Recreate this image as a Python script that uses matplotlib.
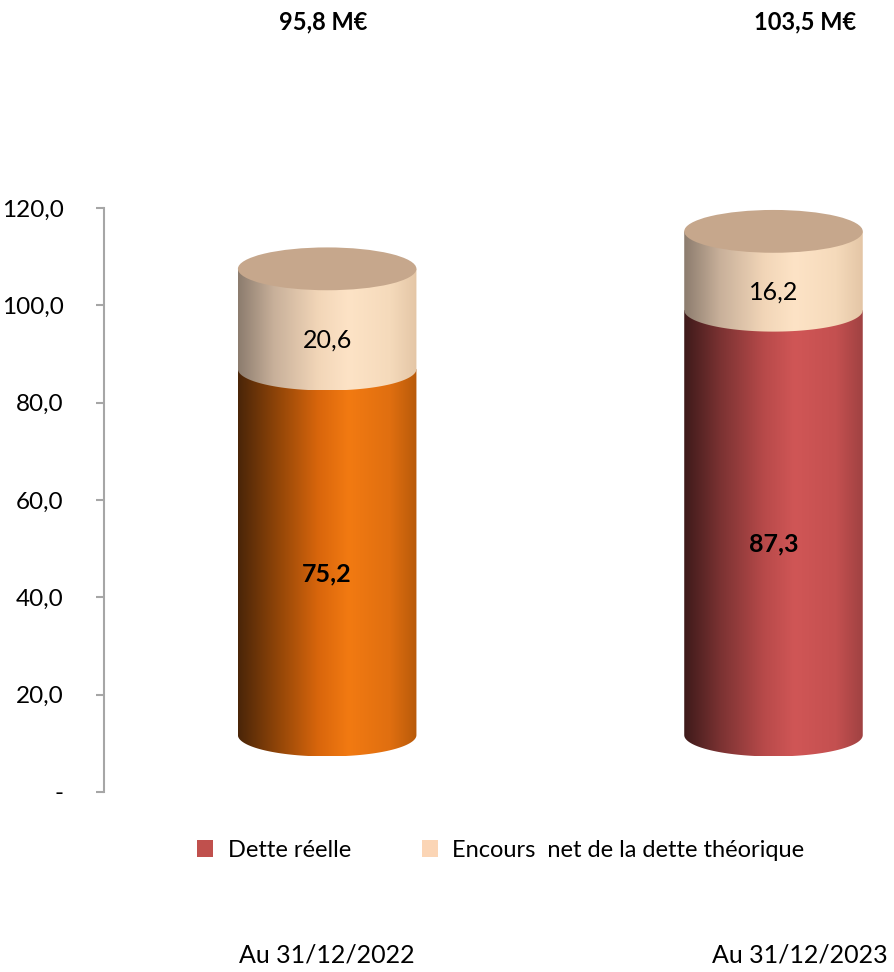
import numpy as np
import matplotlib.pyplot as plt
from matplotlib.path import Path
from matplotlib.patches import PathPatch, Ellipse, Patch
from matplotlib.colors import LinearSegmentedColormap
import matplotlib.transforms as mtransforms

plt.rcParams['font.family'] = ['Lato', 'DejaVu Sans']

# values in M€
categories = ['Au 31/12/2022', 'Au 31/12/2023']
dette_reelle = [75.2, 87.3]
encours_net = [20.6, 16.2]
totals = ['95,8 M€', '103,5 M€']
yticks = [0, 20, 40, 60, 80, 100, 120]
ytick_labels = ['-', '20,0', '40,0', '60,0', '80,0', '100,0', '120,0']

# shading of the cylinder sides, left to right
stops = [0.0, 0.2, 0.45, 0.62, 0.85, 1.0]
side_colors = {
    'orange': ['#4a2508', '#8a4208', '#d9660c', '#f27a12', '#e06f10', '#b85a0a'],
    'red': ['#3e1a1a', '#7a3232', '#b84a4a', '#d05656', '#c45050', '#a04242'],
    'peach': ['#8c7c6e', '#c8b09a', '#f2d6b8', '#fde3c6', '#f5dabb', '#e4c6a6'],
}
bar_colors = [('orange', 'peach'), ('red', 'peach')]
cap_color = '#c6a78c'

depth = 11.7     # base of the cylinders sits above the axis floor
half_w = 0.2     # cylinder radius in x units
ry = 4.4         # ellipse half height in y units

fig = plt.figure(figsize=(8.94, 9.72), dpi=100)
ax = fig.add_axes([104 / 894, 1 - 792 / 972, 790 / 894, 584 / 972])


def side(ax, xc, y0, y1, cname):
    th = np.linspace(np.pi, 2 * np.pi, 80)
    arc = np.column_stack([xc + half_w * np.cos(th), y0 + ry * np.sin(th)])
    verts = np.vstack([[xc - half_w, y1], arc, [xc + half_w, y1], [xc - half_w, y1]])
    codes = [Path.MOVETO] + [Path.LINETO] * (len(verts) - 2) + [Path.CLOSEPOLY]
    patch = PathPatch(Path(verts, codes), facecolor='none', edgecolor='none')
    ax.add_patch(patch)
    cmap = LinearSegmentedColormap.from_list(cname, list(zip(stops, side_colors[cname])))
    grad = np.linspace(0, 1, 256).reshape(1, -1)
    im = ax.imshow(grad, cmap=cmap, aspect='auto', interpolation='bilinear',
                   extent=[xc - half_w, xc + half_w, y0 - ry, y1], zorder=2)
    im.set_clip_path(patch)


x = np.arange(len(categories))
for i, xc in enumerate(x):
    low, high = bar_colors[i]
    y0 = depth
    y1 = y0 + dette_reelle[i]
    y2 = y1 + encours_net[i]
    side(ax, xc, y0, y1, low)
    side(ax, xc, y1, y2, high)
    ax.add_patch(Ellipse((xc, y2), 2 * half_w, 2 * ry, facecolor=cap_color,
                         edgecolor='none', zorder=3))
    ax.text(xc, y0 + dette_reelle[i] / 2 - ry, f'{dette_reelle[i]:.1f}'.replace('.', ','),
            ha='center', va='center', fontsize=18, fontweight='bold', zorder=4)
    ax.text(xc, y1 + encours_net[i] / 2 - ry, f'{encours_net[i]:.1f}'.replace('.', ','),
            ha='center', va='center', fontsize=18, zorder=4)

ax.set_xlim(-0.5, 1.27)
ax.set_ylim(0, 120)
ax.set_yticks(yticks)
ax.set_yticklabels(ytick_labels, fontsize=17.5)
ax.set_xticks([])
for s in ['top', 'right', 'bottom']:
    ax.spines[s].set_visible(False)
ax.spines['left'].set_color('#a6a6a6')
ax.spines['left'].set_linewidth(1.5)
ax.tick_params(axis='y', length=6, width=1.5, color='#a6a6a6', pad=23)

# totals above and dates below, x in data units, y in figure units
trans = mtransforms.blended_transform_factory(ax.transData, fig.transFigure)
top_x = [-0.01, 1.07]
bottom_x = [0.0, 1.06]
for i in range(len(categories)):
    ax.text(top_x[i], 1 - 22 / 972, totals[i], transform=trans, ha='center',
            va='center', fontsize=17, fontweight='bold')
    ax.text(bottom_x[i], 1 - 955 / 972, categories[i], transform=trans, ha='center',
            va='center', fontsize=18)

handles = [Patch(facecolor='#c0504d', label='Dette réelle'),
           Patch(facecolor='#fbd5b5', label='Encours  net de la dette théorique')]
fig.legend(handles=handles, loc='center', bbox_to_anchor=(0.56, 1 - 850 / 972), ncol=2,
           frameon=False, fontsize=17, handlelength=0.7, handleheight=0.7,
           columnspacing=3.0, handletextpad=0.6)

fig.savefig('out.png', dpi=100)
